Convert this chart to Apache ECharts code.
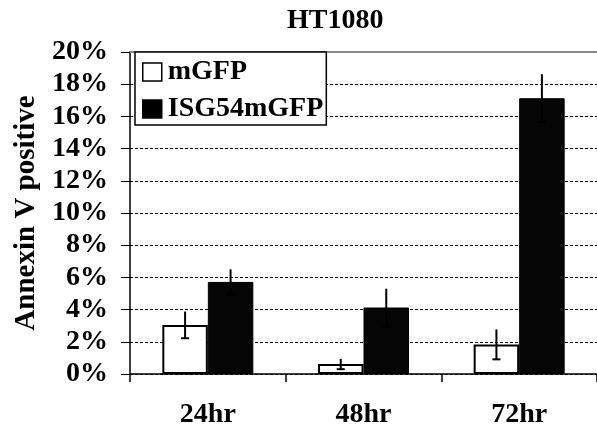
<!DOCTYPE html>
<html>
<head>
<meta charset="utf-8">
<script src="https://cdn.jsdelivr.net/npm/echarts@6/dist/echarts.min.js"></script>
<style>
  html, body { margin: 0; padding: 0; background: #fff; }
  #chart { width: 597px; height: 434px; }
</style>
</head>
<body>
<div id="chart"></div>
<script>
  // values (percent)
  var categories = ['24hr', '48hr', '72hr']
  var mgfp = [3.05, 0.62, 1.84]
  var mgfpErr = [0.83, 0.32, 0.93]
  var isg = [5.72, 4.13, 17.13]
  var isgErr = [0.78, 1.17, 1.49]
  var yTicks = [0, 2, 4, 6, 8, 10, 12, 14, 16, 18, 20]

  var font = 'Liberation Serif, Times New Roman, serif'
  var fs = 28
  var barW = 45.5

  function errorBars(values, errs, side) {
    return {
      type: 'custom',
      z: 5,
      silent: true,
      renderItem: function (params, api) {
        var i = api.value(0)
        var v = api.value(1)
        var e = api.value(2)
        var hi = api.coord([i, v + e])
        var lo = api.coord([i, v - e])
        var x = hi[0] + side * barW / 2
        return {
          type: 'group',
          children: [{
            type: 'line',
            shape: { x1: x, y1: hi[1], x2: x, y2: lo[1] },
            style: { stroke: '#000', lineWidth: 2 }
          }, {
            type: 'line',
            shape: { x1: x - 4, y1: lo[1], x2: x + 4, y2: lo[1] },
            style: { stroke: '#000', lineWidth: 2 }
          }]
        }
      },
      data: values.map(function (v, i) { return [i, v, errs[i]] })
    }
  }

  var chart = echarts.init(document.getElementById('chart'))
  chart.setOption({
    backgroundColor: '#fff',
    animation: false,
    title: {
      text: 'HT1080',
      left: 282,
      top: 2,
      textStyle: { fontFamily: font, fontWeight: 'bold', fontSize: fs, color: '#000' }
    },
    legend: {
      orient: 'vertical',
      left: 135,
      top: 52,
      padding: [6, 3, 2, 7],
      itemGap: 9,
      itemWidth: 19,
      itemHeight: 18,
      icon: 'rect',
      backgroundColor: '#fff',
      borderColor: '#000',
      borderWidth: 1.5,
      borderRadius: 0,
      textStyle: { fontFamily: font, fontWeight: 'bold', fontSize: fs, color: '#000', lineHeight: 28, padding: [0, 0, 0, 1] },
      data: [
        { name: 'mGFP', itemStyle: { color: '#fff', borderColor: '#000', borderWidth: 1.5 } },
        { name: 'ISG54mGFP', itemStyle: { color: '#000', borderColor: '#000', borderWidth: 1.5 } }
      ]
    },
    grid: {
      left: 130,
      top: 52,
      width: 468,
      height: 322
    },
    xAxis: [{
      type: 'category',
      data: categories,
      axisLine: { lineStyle: { color: '#000', width: 1.5 } },
      axisTick: { show: true, length: 8, lineStyle: { color: '#000', width: 1.5 } },
      axisLabel: { margin: 27, fontFamily: font, fontWeight: 'bold', fontSize: fs, color: '#000' }
    }, {
      type: 'category',
      position: 'top',
      data: categories,
      axisLine: { lineStyle: { color: '#888', width: 2 } },
      axisTick: { show: false },
      axisLabel: { show: false }
    }],
    yAxis: {
      type: 'value',
      min: yTicks[0],
      max: yTicks[yTicks.length - 1],
      interval: 2,
      name: 'Annexin V positive',
      nameLocation: 'middle',
      nameGap: 88,
      nameTextStyle: { fontFamily: font, fontWeight: 'bold', fontSize: fs + 1, color: '#000' },
      axisLine: { show: true, lineStyle: { color: '#000', width: 1.5 } },
      axisTick: { show: true, length: 9, lineStyle: { color: '#000', width: 1 } },
      axisLabel: {
        margin: 22,
        formatter: '{value}%',
        fontFamily: font,
        fontWeight: 'bold',
        fontSize: fs,
        color: '#000'
      },
      splitLine: { show: true, lineStyle: { color: '#000', type: [3, 2], width: 1 } }
    },
    series: [{
      name: 'mGFP',
      type: 'bar',
      barWidth: barW,
      barGap: '0%',
      itemStyle: { color: '#fff', borderColor: '#000', borderWidth: 2 },
      data: mgfp
    }, {
      name: 'ISG54mGFP',
      type: 'bar',
      barWidth: barW,
      barGap: '0%',
      itemStyle: { color: '#050505', borderColor: '#000', borderWidth: 1 },
      data: isg
    },
    errorBars(mgfp, mgfpErr, -1),
    errorBars(isg, isgErr, 1)
    ]
  })
</script>
</body>
</html>
